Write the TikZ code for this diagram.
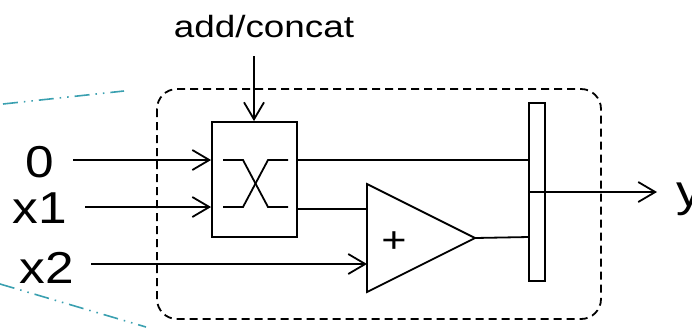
\documentclass[tikz,border=0pt]{standalone}
\usepackage{fontspec}
\setmainfont{Liberation Sans}
\usetikzlibrary{arrows.meta}
\begin{document}
\begin{tikzpicture}[x=1pt,y=-1pt,
  ln/.style={line width=1.8pt},
  arr/.style={ln,-{Straight Barb[length=17pt,width=20pt]}},
  blk/.style={draw,line width=1.8pt,inner sep=0pt,fill=white},
  big/.style={inner sep=0pt,anchor=base,font=\fontsize{44.7}{50}\selectfont},
  small/.style={inner sep=0pt,anchor=base,font=\fontsize{30.7}{36}\selectfont},
  tealdash/.style={line width=1.6pt,color={rgb,255:red,58;green,160;blue,176},
    dash pattern=on 15pt off 6pt on 1.5pt off 6pt on 1.5pt off 6pt}]
\useasboundingbox (0,0) rectangle (692,333);

% teal zoom lines
\coordinate (t1) at (3,104);
\coordinate (t2) at (124,91);
\coordinate (b1) at (0,284);
\coordinate (b2) at (146,327);
\draw[tealdash] (t1) -- (t2);
\draw[tealdash] (b1) -- (b2);

% dashed enclosure
\draw[ln,dashed,dash pattern=on 8pt off 5pt,rounded corners=20pt] (157,89) rectangle (601,319);

% mux box
\node[blk,minimum width=85pt,minimum height=115pt] (mux) at (254.5,179.5) {};
\draw[line width=1.8pt] (223,160) -- (243,160) -- (268,207) -- (288,207);
\draw[line width=1.8pt] (223,207) -- (243,207) -- (268,160) -- (288,160);

% adder triangle
\coordinate (ta) at (367,184);
\coordinate (tb) at (367,292);
\coordinate (tc) at (475,238);
\draw[ln,fill=white,line join=miter] (ta) -- (tc) -- (tb) -- cycle;
\node[inner sep=0pt,font=\fontsize{36}{40}\selectfont] (plus) at (394,242) {\scalebox{1.2}[1]{+}};

% concat bar
\node[blk,minimum width=16pt,minimum height=178pt] (bar) at (537,192) {};

% labels
\node[small] (ac) at (264,37) {\scalebox{1.2}[1]{add/concat}};
\node[big] (l0) at (40,177) {\scalebox{1.15}[1]{0}};
\node[big] (l1) at (40,223) {\scalebox{1.15}[1]{x1}};
\node[big] (l2) at (47,283) {\scalebox{1.15}[1]{x2}};
\node[big,anchor=base west] (ly) at (676,206) {\scalebox{1.15}[1]{y}};

% connectors
\coordinate (acs) at (254,56);
\draw[arr] (acs) -- (mux.north -| acs);
\coordinate (i0) at (73,160);
\coordinate (i1) at (85,207);
\coordinate (i2) at (91,264);
\draw[arr] (i0) -- (i0 -| mux.west);
\draw[arr] (i1) -- (i1 -| mux.west);
\draw[arr] (i2) -- (i2 -| ta);
\coordinate (m0) at (297,160);
\coordinate (m1) at (297,209);
\draw[ln] (m0) -- (m0 -| bar.west);
\draw[ln] (m1) -- (m1 -| ta);
\draw[ln] (tc) -- (529,237);
\coordinate (yo) at (657,192);
\draw[arr] (bar.west) -- (yo);
\end{tikzpicture}
\end{document}
